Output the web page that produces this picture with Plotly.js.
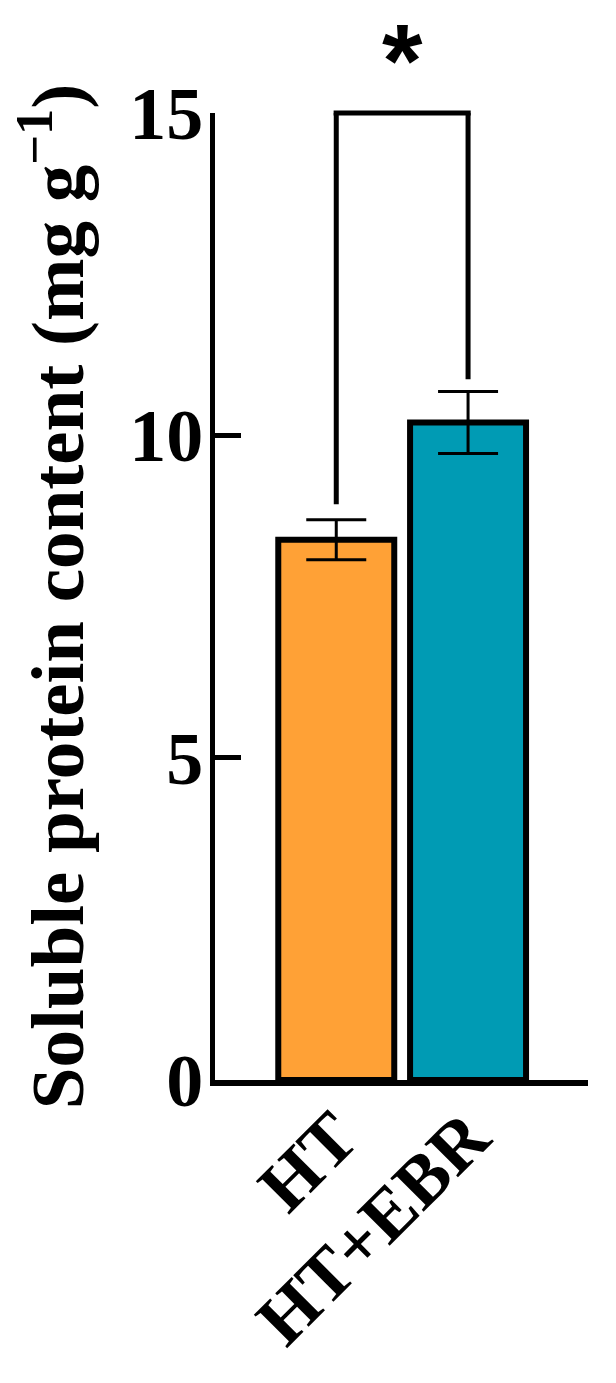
<!DOCTYPE html>
<html>
<head>
<meta charset="utf-8">
<script src="https://cdn.plot.ly/plotly-3.0.1.min.js"></script>
<style>
  body { margin: 0; background: #fff; }
</style>
</head>
<body>
<div id="chart"></div>
<script>
// groups and measured values (mg g-1)
const groups = ["HT", "HT+EBR"];
const means = [8.38, 10.2];
const sd = [0.31, 0.48];
const barColors = ["#FFA136", "#009BB4"];
// significance bracket: lower ends above each bar, top at 15
const bracketLow = [8.93, 10.87];
const bracketTop = 15;
const yTicks = [0, 5, 10, 15];

const serif = "Liberation Serif";

const data = [
  {
    type: "bar",
    x: groups,
    y: means,
    marker: {
      color: barColors,
      line: { color: "#000", width: 6 },
    },
    error_y: {
      type: "data",
      array: sd,
      visible: true,
      color: "#000",
      thickness: 3,
      width: 30,
    },
    hoverinfo: "none",
    showlegend: false,
  },
];

const shapes = [
  // bracket legs
  {
    type: "line", xref: "x", yref: "y",
    x0: 0, x1: 0, y0: bracketLow[0], y1: bracketTop,
    line: { color: "#000", width: 5 },
  },
  {
    type: "line", xref: "x", yref: "y",
    x0: 1, x1: 1, y0: bracketLow[1], y1: bracketTop,
    line: { color: "#000", width: 5 },
  },
  // bracket top, at the top edge of the plot (paper so it is not clipped)
  {
    type: "line", xref: "x", yref: "paper",
    x0: -0.02, x1: 1.02, y0: 1, y1: 1,
    line: { color: "#000", width: 5 },
  },
];

const layout = {
  width: 616,
  height: 1383,
  margin: { l: 215, r: 28, t: 113, b: 303 },
  paper_bgcolor: "#fff",
  plot_bgcolor: "#fff",
  bargap: 0.12,
  font: { family: serif, color: "#000", size: 74, weight: "bold" },
  xaxis: {
    type: "category",
    range: [-0.92, 1.91],
    showline: true,
    linewidth: 6,
    linecolor: "#000",
    ticks: "",
    tickangle: -45,
    ticklabelstandoff: -20,
    tickfont: { family: serif, size: 72, weight: "bold", color: "#000" },
    showgrid: false,
    zeroline: false,
    fixedrange: true,
  },
  yaxis: {
    range: [0, 15],
    tickvals: yTicks,
    showline: true,
    linewidth: 5,
    linecolor: "#000",
    ticks: "inside",
    ticklen: 26,
    tickwidth: 5,
    tickcolor: "#000",
    ticklabelstandoff: -8,
    tickfont: { family: serif, size: 74, weight: "bold", color: "#000" },
    showgrid: false,
    zeroline: false,
    fixedrange: true,
    title: {
      text: "Soluble protein content (mg g<sup>\u22121</sup>)",
      font: { family: serif, size: 75, weight: "bold", color: "#000" },
      standoff: 22,
    },
  },
  shapes: shapes,
  annotations: [
    {
      // significance mark, centred between the two bars
      x: 0.5, xref: "x",
      y: bracketTop, yref: "y",
      yanchor: "bottom",
      text: "*",
      showarrow: false,
      height: 80,
      valign: "middle",
      yshift: 10,
      font: { family: "Liberation Sans", size: 104, weight: "bold", color: "#000" },
    },
  ],
};

Plotly.newPlot("chart", data, layout, { displayModeBar: false, staticPlot: true });
</script>
</body>
</html>
